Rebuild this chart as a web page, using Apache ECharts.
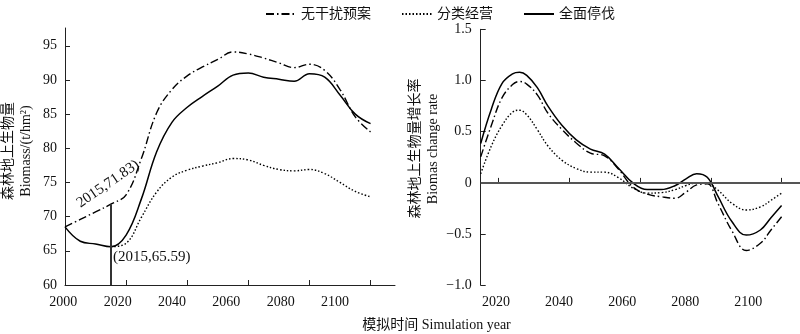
<!DOCTYPE html>
<html>
<head>
<meta charset="utf-8">
<script src="https://cdn.jsdelivr.net/npm/echarts@6/dist/echarts.min.js"></script>
<style>html,body{margin:0;padding:0;background:#fff}#c{width:800px;height:334px}</style>
</head>
<body>
<div id="c"></div>
<script>
// ---- Data ----
const seriesNames = ['无干扰预案', '分类经营', '全面停伐'];

// Left panel: above-ground biomass (t/hm2)
const biomassYears = [2000, 2005, 2010, 2015, 2020, 2025, 2030, 2035, 2040, 2045, 2050, 2055, 2060, 2065, 2070, 2075, 2080, 2085, 2090, 2095, 2100];
const biomassNoDisturb = [68.5, 69.6, 70.7, 71.83, 73.2, 78.5, 85.2, 88.6, 90.6, 91.9, 93.0, 94.1, 93.8, 93.2, 92.5, 91.8, 92.3, 91.4, 88.6, 84.6, 82.4];
const biomassClassified = [null, null, null, 65.59, 66.1, 69.9, 73.6, 75.8, 76.8, 77.4, 77.9, 78.5, 78.3, 77.5, 76.9, 76.7, 76.9, 76.3, 75.0, 73.7, 72.9];
const biomassFullBan = [68.5, 66.4, 66.0, 65.59, 67.3, 72.6, 79.5, 83.8, 86.0, 87.6, 89.1, 90.7, 91.0, 90.4, 90.1, 89.8, 90.9, 90.4, 87.8, 85.0, 83.6];

// Right panel: biomass change rate
const rateYears = [2015, 2018, 2021, 2024, 2026, 2028, 2031, 2034, 2038, 2042, 2046, 2050, 2054, 2058, 2062, 2066, 2070, 2073, 2076, 2079, 2082, 2086, 2090, 2094, 2097, 2100];
const rateNoDisturb = [0.254, 0.56, 0.83, 0.96, 0.99, 0.965, 0.86, 0.68, 0.52, 0.39, 0.29, 0.265, 0.13, -0.04, -0.11, -0.135, -0.15, -0.09, -0.02, -0.01, -0.20, -0.47, -0.66, -0.59, -0.46, -0.33];
const rateClassified = [0.09, 0.36, 0.56, 0.69, 0.71, 0.665, 0.52, 0.36, 0.22, 0.14, 0.105, 0.105, 0.05, -0.05, -0.10, -0.095, -0.065, -0.025, 0.0, -0.005, -0.07, -0.20, -0.265, -0.235, -0.17, -0.10];
const rateFullBan = [0.385, 0.72, 0.97, 1.065, 1.08, 1.05, 0.93, 0.75, 0.56, 0.42, 0.33, 0.28, 0.14, 0.0, -0.065, -0.065, -0.025, 0.04, 0.09, 0.055, -0.13, -0.38, -0.51, -0.46, -0.34, -0.22];

// Tick labels
const biomassTicks = [60, 65, 70, 75, 80, 85, 90, 95];
const rateTicks = [-1.0, -0.5, 0, 0.5, 1.0, 1.5];
const leftYearTicks = [2020, 2040, 2060, 2080, 2100];
const leftYearLabels = [2000, 2020, 2040, 2060, 2080, 2100];
const rightYearTicks = [2020, 2040, 2060, 2080, 2100];
const rightYearLabels = [2020, 2040, 2060, 2080, 2100];

// Annotations
const markYear = 2015, markHigh = 71.83, markLow = 65.59;

// ---- Chart ----
const FONT = '"Liberation Serif", "Noto Sans CJK SC", serif';
const pairs = (xs, ys) => xs.map((x, i) => [x, ys[i]]);
const styles = [
  { type: [8, 3, 1.5, 3], width: 1.4 },
  { type: [1.5, 2], width: 1.4 },
  { type: 'solid', width: 1.5 }
];
const leftVals = [biomassNoDisturb, biomassClassified, biomassFullBan];
const rightVals = [rateNoDisturb, rateClassified, rateFullBan];

const axisLineStyle = { color: '#222', width: 1 };
const labelStyle = { fontFamily: FONT, fontSize: 14, color: '#111' };
const fmtRate = v => v === 0 ? '0' : v.toFixed(1).replace('-', '\u2212');
const fmtYear = v => String(Math.round(v));

const series = [];
seriesNames.forEach((n, i) => {
  const s = {
    name: n, type: 'line', xAxisIndex: 0, yAxisIndex: 0,
    data: pairs(biomassYears, leftVals[i]),
    smooth: 0.4, symbol: 'none', showSymbol: false, connectNulls: false,
    lineStyle: Object.assign({ color: '#000' }, styles[i]),
    itemStyle: { color: '#000' }, z: 3
  };
  if (i === 2) {
    s.markLine = {
      silent: true, symbol: 'none',
      lineStyle: { color: '#333', width: 2, type: 'solid' },
      label: { show: false },
      data: [[{ coord: [markYear, 60] }, { coord: [markYear, markHigh] }]]
    };
  }
  series.push(s);
});
seriesNames.forEach((n, i) => {
  const s = {
    name: n, type: 'line', xAxisIndex: 1, yAxisIndex: 1,
    data: pairs(rateYears, rightVals[i]),
    smooth: 0.4, symbol: 'none', showSymbol: false,
    lineStyle: Object.assign({ color: '#000' }, styles[i]),
    itemStyle: { color: '#000' }, z: 3
  };
  if (i === 2) {
    s.markLine = {
      silent: true, symbol: 'none',
      lineStyle: { color: '#555', width: 2, type: 'solid' },
      label: { show: false },
      data: [{ yAxis: 0 }]
    };
  }
  series.push(s);
});

const chart = echarts.init(document.getElementById('c'), null, { renderer: 'canvas' });
chart.setOption({
  animation: false,
  backgroundColor: '#fff',
  textStyle: { fontFamily: FONT },
  legend: {
    data: seriesNames, left: 260, top: 2,
    itemWidth: 30, itemHeight: 14, itemGap: 30,
    itemStyle: { opacity: 0 },
    textStyle: { fontFamily: FONT, fontSize: 14, color: '#111' }
  },
  grid: [
    { left: 65, width: 330, top: 28, bottom: 49 },
    { left: 480.7, right: 0, top: 29.3, bottom: 48.7 },
    { left: 63.3, width: 271.7, top: 28, bottom: 49 },
    { left: 496, width: 252.3, top: 29.3, bottom: 48.7 }
  ],
  xAxis: [
    { type: 'value', gridIndex: 0, min: 2000, max: 2108,
      axisLine: { lineStyle: axisLineStyle }, splitLine: { show: false },
      axisTick: { inside: true, length: 5, customValues: leftYearTicks, lineStyle: axisLineStyle },
      axisLabel: { show: false } },
    { type: 'value', gridIndex: 1, min: 2015, max: 2105.2,
      axisLine: { lineStyle: axisLineStyle }, splitLine: { show: false },
      axisTick: { inside: true, length: 5, customValues: rightYearTicks, lineStyle: axisLineStyle },
      axisLabel: { show: false } },
    { type: 'value', gridIndex: 2, min: 2000, max: 2100,
      axisLine: { show: false }, axisTick: { show: false }, splitLine: { show: false },
      axisLabel: Object.assign({ customValues: leftYearLabels, margin: 10, showMinLabel: true, showMaxLabel: true, formatter: fmtYear }, labelStyle) },
    { type: 'value', gridIndex: 3, min: 2020, max: 2100,
      axisLine: { show: false }, axisTick: { show: false }, splitLine: { show: false },
      axisLabel: Object.assign({ customValues: rightYearLabels, margin: 10, showMinLabel: true, showMaxLabel: true, formatter: fmtYear }, labelStyle) }
  ],
  yAxis: [
    { type: 'value', gridIndex: 0, min: 60, max: 97.6,
      axisLine: { show: true, lineStyle: axisLineStyle }, splitLine: { show: false },
      axisTick: { show: true, inside: true, length: 5, customValues: biomassTicks, lineStyle: axisLineStyle },
      axisLabel: Object.assign({ customValues: biomassTicks, margin: 8 }, labelStyle) },
    { type: 'value', gridIndex: 1, min: -1, max: 1.5,
      axisLine: { show: true, lineStyle: axisLineStyle }, splitLine: { show: false },
      axisTick: { show: true, inside: true, length: 5, customValues: rateTicks, lineStyle: axisLineStyle },
      axisLabel: Object.assign({ customValues: rateTicks, margin: 9, formatter: fmtRate }, labelStyle) },
    { type: 'value', gridIndex: 2, show: false, min: 0, max: 1 },
    { type: 'value', gridIndex: 3, show: false, min: 0, max: 1 }
  ],
  graphic: [
    { type: 'text', x: 8.5, y: 151, rotation: Math.PI / 2,
      style: { text: '森林地上生物量', font: '14px ' + FONT, fill: '#111', textAlign: 'center', textVerticalAlign: 'middle' } },
    { type: 'text', x: 26, y: 151, rotation: Math.PI / 2,
      style: { text: 'Biomass/(t/hm²)', font: '14px ' + FONT, fill: '#111', textAlign: 'center', textVerticalAlign: 'middle' } },
    { type: 'text', x: 415.5, y: 148.5, rotation: Math.PI / 2,
      style: { text: '森林地上生物量增长率', font: '14px ' + FONT, fill: '#111', textAlign: 'center', textVerticalAlign: 'middle' } },
    { type: 'text', x: 433.5, y: 149, rotation: Math.PI / 2,
      style: { text: 'Biomas change rate', font: '14px ' + FONT, fill: '#111', textAlign: 'center', textVerticalAlign: 'middle' } },
    { type: 'text', x: 436.5, y: 325,
      style: { text: '模拟时间 Simulation year', font: '14px ' + FONT, fill: '#111', textAlign: 'center', textVerticalAlign: 'middle' } },
    { type: 'text', x: 108, y: 184, rotation: 34.6 * Math.PI / 180,
      style: { text: markYear + ',' + markHigh + ')', font: '15px ' + FONT, fill: '#111', textAlign: 'center', textVerticalAlign: 'middle' } },
    { type: 'text', x: 113, y: 257,
      style: { text: '(' + markYear + ',' + markLow + ')', font: '15px ' + FONT, fill: '#111', textAlign: 'left', textVerticalAlign: 'middle' } }
  ],
  series: series
});
</script>
</body>
</html>
